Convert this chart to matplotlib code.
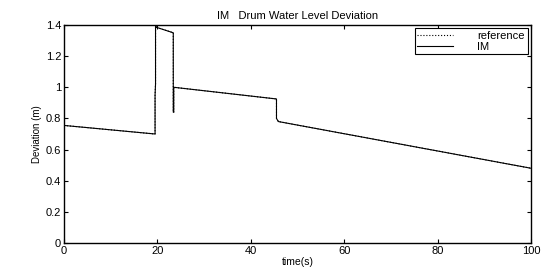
import matplotlib
matplotlib.use("Agg")
import matplotlib.pyplot as plt

# time (s) and drum water level deviation (m)
TIME = [0, 19.5, 19.5, 19.6, 19.6, 19.8, 23.4, 23.4, 23.5, 23.5, 45.5, 45.5, 45.9, 100]
IM_LEVEL = [0.755, 0.70, 0.95, 1.02, 1.40, 1.385, 1.35, 0.84, 0.84, 1.00, 0.925, 0.80, 0.78, 0.48]
REF_LEVEL = IM_LEVEL

XTICKS = [0, 20, 40, 60, 80, 100]
YTICKS = [0, 0.2, 0.4, 0.6, 0.8, 1, 1.2, 1.4]
YTICK_LABELS = ["0", "0.2", "0.4", "0.6", "0.8", "1", "1.2", "1.4"]

plt.rcParams["font.family"] = ["Liberation Sans", "DejaVu Sans"]

fig = plt.figure(figsize=(5.48, 2.73), dpi=100)
ax = fig.add_axes([64 / 548, 1 - 243 / 273, (531 - 64) / 548, (243 - 25) / 273])

ax.plot(TIME, REF_LEVEL, color="black", linestyle=":", linewidth=0.8, label="reference")
ax.plot(TIME, IM_LEVEL, color="black", linestyle="-", linewidth=0.8, label="IM")

ax.set_xlim(0, 100)
ax.set_ylim(0, 1.4)
ax.set_xticks(XTICKS)
ax.set_xticklabels([str(v) for v in XTICKS])
ax.set_yticks(YTICKS)
ax.set_yticklabels(YTICK_LABELS)
ax.tick_params(direction="in", length=3, width=0.8, labelsize=8,
               top=True, right=True, pad=2)

for spine in ax.spines.values():
    spine.set_linewidth(1.0)
    spine.set_color("black")

ax.set_title("IM   Drum Water Level Deviation", fontsize=8, pad=4)
ax.set_xlabel("time(s)", fontsize=7.5, labelpad=1)
ax.set_ylabel("Deviation (m)", fontsize=7,
              family=["Liberation Sans Narrow", "Liberation Sans", "DejaVu Sans"],
              labelpad=3)

leg = ax.legend(loc="upper right", fontsize=8, frameon=True, fancybox=False,
                borderaxespad=0.3, handlelength=3.2, handletextpad=2.2,
                borderpad=0.25, labelspacing=0.05, framealpha=1)
leg.get_frame().set_edgecolor("black")
leg.get_frame().set_linewidth(0.8)

fig.savefig("out.png", dpi=100)
